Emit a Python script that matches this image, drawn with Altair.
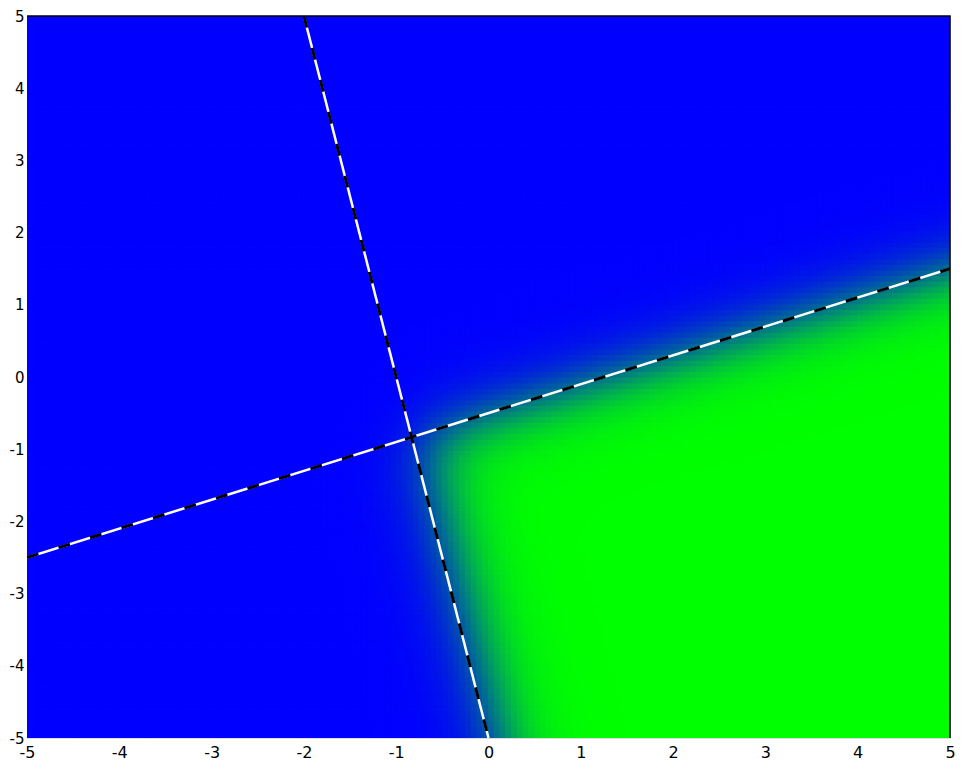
import numpy as np
import pandas as pd
import altair as alt

# Axis range and ticks
x_domain = [-5, 5]
y_domain = [-5, 5]
tick_values = [-5, -4, -3, -2, -1, 0, 1, 2, 3, 4, 5]

# Decision boundary lines (endpoints)
line1_x = [-5.0, 5.0]
line1_y = [-2.5, 1.5]
line2_x = [-2.0, 0.0]
line2_y = [5.0, -5.0]

# Boundary coefficients a*x + b*y + c (line1: y = 0.4x - 0.5, line2: y = -5x - 5)
line1_coef = [0.4, -1.0, -0.5]
line2_coef = [5.0, 1.0, 5.0]
sharpness = [4.2, 4.8]
offsets = [0.05, 0.15]

# Grid of cells for the probability field
nx, ny = 160, 128
xe = np.linspace(x_domain[0], x_domain[1], nx + 1)
ye = np.linspace(y_domain[0], y_domain[1], ny + 1)
xc = (xe[:-1] + xe[1:]) / 2
yc = (ye[:-1] + ye[1:]) / 2
XC, YC = np.meshgrid(xc, yc)
X0, Y0 = np.meshgrid(xe[:-1], ye[:-1])
X1, Y1 = np.meshgrid(xe[1:], ye[1:])


def sig(z):
    return 1.0 / (1.0 + np.exp(-z))


a, b, c = line1_coef
d1 = (a * XC + b * YC + c) / np.hypot(a, b)
a, b, c = line2_coef
d2 = (a * XC + b * YC + c) / np.hypot(a, b)
p = sig(sharpness[0] * (d1 - offsets[0])) * sig(sharpness[1] * (d2 - offsets[1]))

grid = pd.DataFrame({
    "x": X0.ravel(), "x2": X1.ravel(),
    "y": Y0.ravel(), "y2": Y1.ravel(),
    "p": np.round(p.ravel(), 3),
})

lines = pd.DataFrame({
    "x": line1_x + line2_x,
    "y": line1_y + line2_y,
    "line": ["a", "a", "b", "b"],
})

border = pd.DataFrame({"x": [-5, 5, 5], "y": [5, 5, -5]})

xs = alt.Scale(domain=x_domain, nice=False, zero=False)
ys = alt.Scale(domain=y_domain, nice=False, zero=False)
color_scale = alt.Scale(domain=[0, 1], range=["#0000ff", "#00ff00"], interpolate="rgb")

x_axis = alt.Axis(values=tick_values, title=None, grid=False, domain=False, ticks=False,
                  tickSize=0, labelPadding=6, labelFontSize=16, labelFont="DejaVu Sans",
                  labelColor="black", labelFlush=False, labelExpr="'' + datum.value")
y_axis = alt.Axis(values=tick_values, title=None, grid=False, domain=False, ticks=False,
                  tickSize=0, labelPadding=3, labelFontSize=15, labelFont="DejaVu Sans",
                  labelColor="black", labelFlush=False, labelBaseline="middle",
                  labelExpr="'' + datum.value")

heat = alt.Chart(grid).mark_rect(strokeWidth=1.2, clip=True).encode(
    x=alt.X("x:Q", scale=xs, axis=x_axis),
    x2="x2",
    y=alt.Y("y:Q", scale=ys, axis=y_axis),
    y2="y2",
    color=alt.Color("p:Q", scale=color_scale, legend=None),
    stroke=alt.Stroke("p:Q", scale=color_scale, legend=None),
)

white_lines = alt.Chart(lines).mark_line(color="white", strokeWidth=2.5, clip=True).encode(
    x=alt.X("x:Q", scale=xs),
    y=alt.Y("y:Q", scale=ys),
    detail="line:N",
)

dash_lines = alt.Chart(lines).mark_line(color="black", strokeWidth=3, strokeDash=[12, 21],
                                        clip=True).encode(
    x=alt.X("x:Q", scale=xs),
    y=alt.Y("y:Q", scale=ys),
    detail="line:N",
)

frame = alt.Chart(border).mark_line(color="black", strokeWidth=1.5).encode(
    x=alt.X("x:Q", scale=xs),
    y=alt.Y("y:Q", scale=ys),
)

chart = alt.layer(heat, white_lines, dash_lines, frame).properties(
    width=923,
    height=722,
    padding={"left": 19, "top": 8, "right": 5, "bottom": 23},
    autosize=alt.AutoSizeParams(type="none"),
).configure_view(stroke=None).configure(background="white")

chart.save("out.html", embed_options={"renderer": "svg", "actions": False})
